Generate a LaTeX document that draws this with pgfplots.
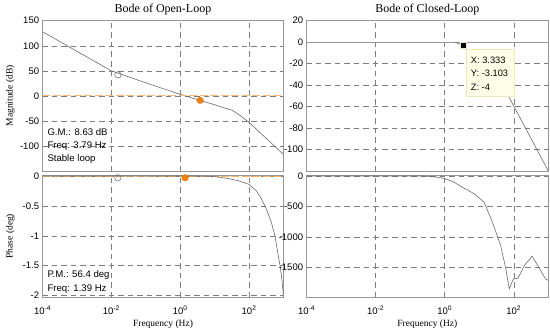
\documentclass[border=0pt]{standalone}
\usepackage{pgfplots}
\pgfplotsset{compat=1.18}
\usepackage{fontspec}
\setmainfont{Liberation Sans}
\newfontfamily\serif{Liberation Serif}
\definecolor{curve}{RGB}{105,105,105}
\definecolor{gridc}{RGB}{125,125,125}
\definecolor{framec}{RGB}{150,150,150}
\definecolor{orng}{RGB}{238,128,16}
\definecolor{lorng}{RGB}{250,178,100}
\definecolor{tipfill}{RGB}{255,255,232}
\definecolor{tipdraw}{RGB}{235,232,190}
\pgfplotsset{
  bodebase/.style={
    scale only axis,
    xmin=1e-4, xmax=1e3,
    xtick={1e-4,1e-2,1,1e2},
    grid=major,
    major grid style={dash pattern=on 5.5pt off 4pt, color=gridc, line width=0.45pt},
    axis line style={color=framec, line width=0.6pt},
    major tick length=0pt, minor tick length=0pt,
    tick label style={font=\fontsize{9.5}{11}\selectfont},
    /pgf/number format/assume math mode=true,
    /pgf/number format/1000 sep={},
    yticklabel style={anchor=east, inner sep=0pt, xshift=-3.2pt},
    xticklabel style={anchor=base, inner sep=0pt, yshift=-17pt},
    every axis title/.style={at={(axis description cs:0.5,1.055)}, anchor=base, font=\serif\fontsize{12}{14}\selectfont},
    every axis x label/.style={at={(axis description cs:0.5,-0.2347)}, anchor=base, font=\serif\fontsize{9.5}{11}\selectfont},
    every axis y label/.style={at={(axis description cs:-0.124,0.5)}, rotate=90, anchor=base, font=\serif\fontsize{9.5}{11}\selectfont},
  },
  toppanel/.style={bodebase, width=241pt, height=150.3pt, xticklabels={}},
  botpanel/.style={bodebase, width=241pt, height=122.3pt,
    xticklabels={10\textsuperscript{-4},10\textsuperscript{-2},10\textsuperscript{0},10\textsuperscript{2}},
    xlabel={Frequency (Hz)}},
}
\begin{document}
\begin{tikzpicture}
\useasboundingbox (0,0) rectangle (550pt,333pt);

% ---------- Top left: open-loop magnitude ----------
\begin{axis}[xmode=log, log basis x=10, toppanel, at={(42.5pt,162pt)}, anchor=south west,
  ymin=-150, ymax=150, ytick={-100,-50,0,50,100,150},
  title={Bode of Open-Loop}, ylabel={Magnitude (dB)}]
\addplot[color=curve, line width=0.6pt] coordinates {
(1e-4,128) (3.162e-4,108.5) (1e-3,89) (3.162e-3,69.5) (1e-2,50)
(3.162e-2,38) (1e-1,26) (3.162e-1,14.5) (1,3) (3.162,-7.4) (10,-17.8)
(20,-24.5) (31.62,-28.6) (50,-37) (100,-53) (316.2,-85) (1000,-117)};
\addplot[only marks, mark=o, mark size=3.2pt, color=curve, mark options={line width=0.5pt}] coordinates {(0.0155,42)};
\addplot[orng!55!white, no markers, line width=1.2pt, dash pattern=on 8pt off 2.5pt] coordinates {(0.0001,0) (0.01,0) (1,0) (100,0) (1000,0)};
\addplot[only marks, mark=*, mark size=3.3pt, color=orng] coordinates {(3.79,-9)};
\end{axis}

% ---------- Bottom left: open-loop phase ----------
\begin{axis}[xmode=log, log basis x=10, botpanel, at={(42.5pt,35.7pt)}, anchor=south west,
  ymin=-2.03, ymax=0.017, ytick={-2,-1.5,-1,-0.5,0},
  ylabel={Phase (deg)}]
\addplot[draw=lorng, line width=1pt, dash pattern=on 8pt off 2.5pt] coordinates {(1e-4,0) (1e3,0)};
\addplot[color=curve, line width=0.6pt] coordinates {
(1e-4,0) (3.162,0) (6.31,-0.005) (10,-0.01) (23.4,-0.04) (50,-0.08)
(100,-0.14) (158.5,-0.24) (223.9,-0.37) (316.2,-0.55) (436.5,-0.76)
(562.3,-1.0) (676.1,-1.27) (794.3,-1.5) (891.3,-1.72) (1000,-2.0)};
\addplot[only marks, mark=o, mark size=3.2pt, color=curve, mark options={line width=0.5pt}] coordinates {(0.0155,-0.03)};
\addplot[only marks, mark=*, mark size=3.3pt, color=orng] coordinates {(1.39,-0.03)};
\end{axis}

% ---------- Top right: closed-loop magnitude ----------
\begin{axis}[xmode=log, log basis x=10, toppanel, at={(306.5pt,162pt)}, anchor=south west, width=241.8pt,
  ymin=-120, ymax=20, ytick={-100,-80,-60,-40,-20,0,20},
  title={Bode of Closed-Loop}]
\addplot[color=framec, line width=0.6pt] coordinates {(1e-4,0) (1e3,0)};
\addplot[color=curve, line width=0.6pt] coordinates {
(2,0) (3.333,-3.103) (72.4,-51) (1000,-120)};
\addplot[only marks, mark=square*, mark size=3pt, color=black, mark options={draw=tipdraw, fill=black, line width=0.4pt}] coordinates {(3.333,-3.103)};
\end{axis}

% ---------- Bottom right: closed-loop phase ----------
\begin{axis}[xmode=log, log basis x=10, botpanel, at={(306.5pt,35.7pt)}, anchor=south west, width=241.8pt,
  ymin=-1992, ymax=16, ytick={-1500,-1000,-500,0}]
\addplot[color=curve, line width=0.6pt] coordinates {
(1e-4,0) (0.2,0) (0.5,-12) (1,-43) (1.82,-99) (3.55,-197) (7.08,-290)
(13.8,-428) (24,-757) (41.7,-1140) (58.9,-1524) (74.1,-1853) (97.7,-1688)
(131.8,-1680) (204,-1469) (338.8,-1316) (524.8,-1497) (831.8,-1688) (1000,-1715)};
\end{axis}

% ---------- annotations ----------
\begin{scope}[every node/.style={font=\fontsize{9.6}{11}\selectfont, inner sep=0pt, anchor=base west}]
\node at (47.3pt,197.2pt) {G.M.: 8.63 dB};
\node at (47.3pt,184.5pt) {Freq: 3.79 Hz};
\node at (47.3pt,171.2pt) {Stable loop};
\node at (47.3pt,55.2pt) {P.M.: 56.4 deg};
\node at (47.3pt,41.8pt) {Freq: 1.39 Hz};
\end{scope}
\fill[tipfill, draw=tipdraw, line width=0.5pt] (466pt,283.7pt) rectangle (514pt,236.3pt);
\begin{scope}[every node/.style={font=\fontsize{9.3}{11}\selectfont, inner sep=0pt, anchor=base west}]
\node at (470.7pt,269.6pt) {X: 3.333};
\node at (470.7pt,256.3pt) {Y: -3.103};
\node at (470.7pt,242.9pt) {Z: -4};
\end{scope}
\end{tikzpicture}
\end{document}
